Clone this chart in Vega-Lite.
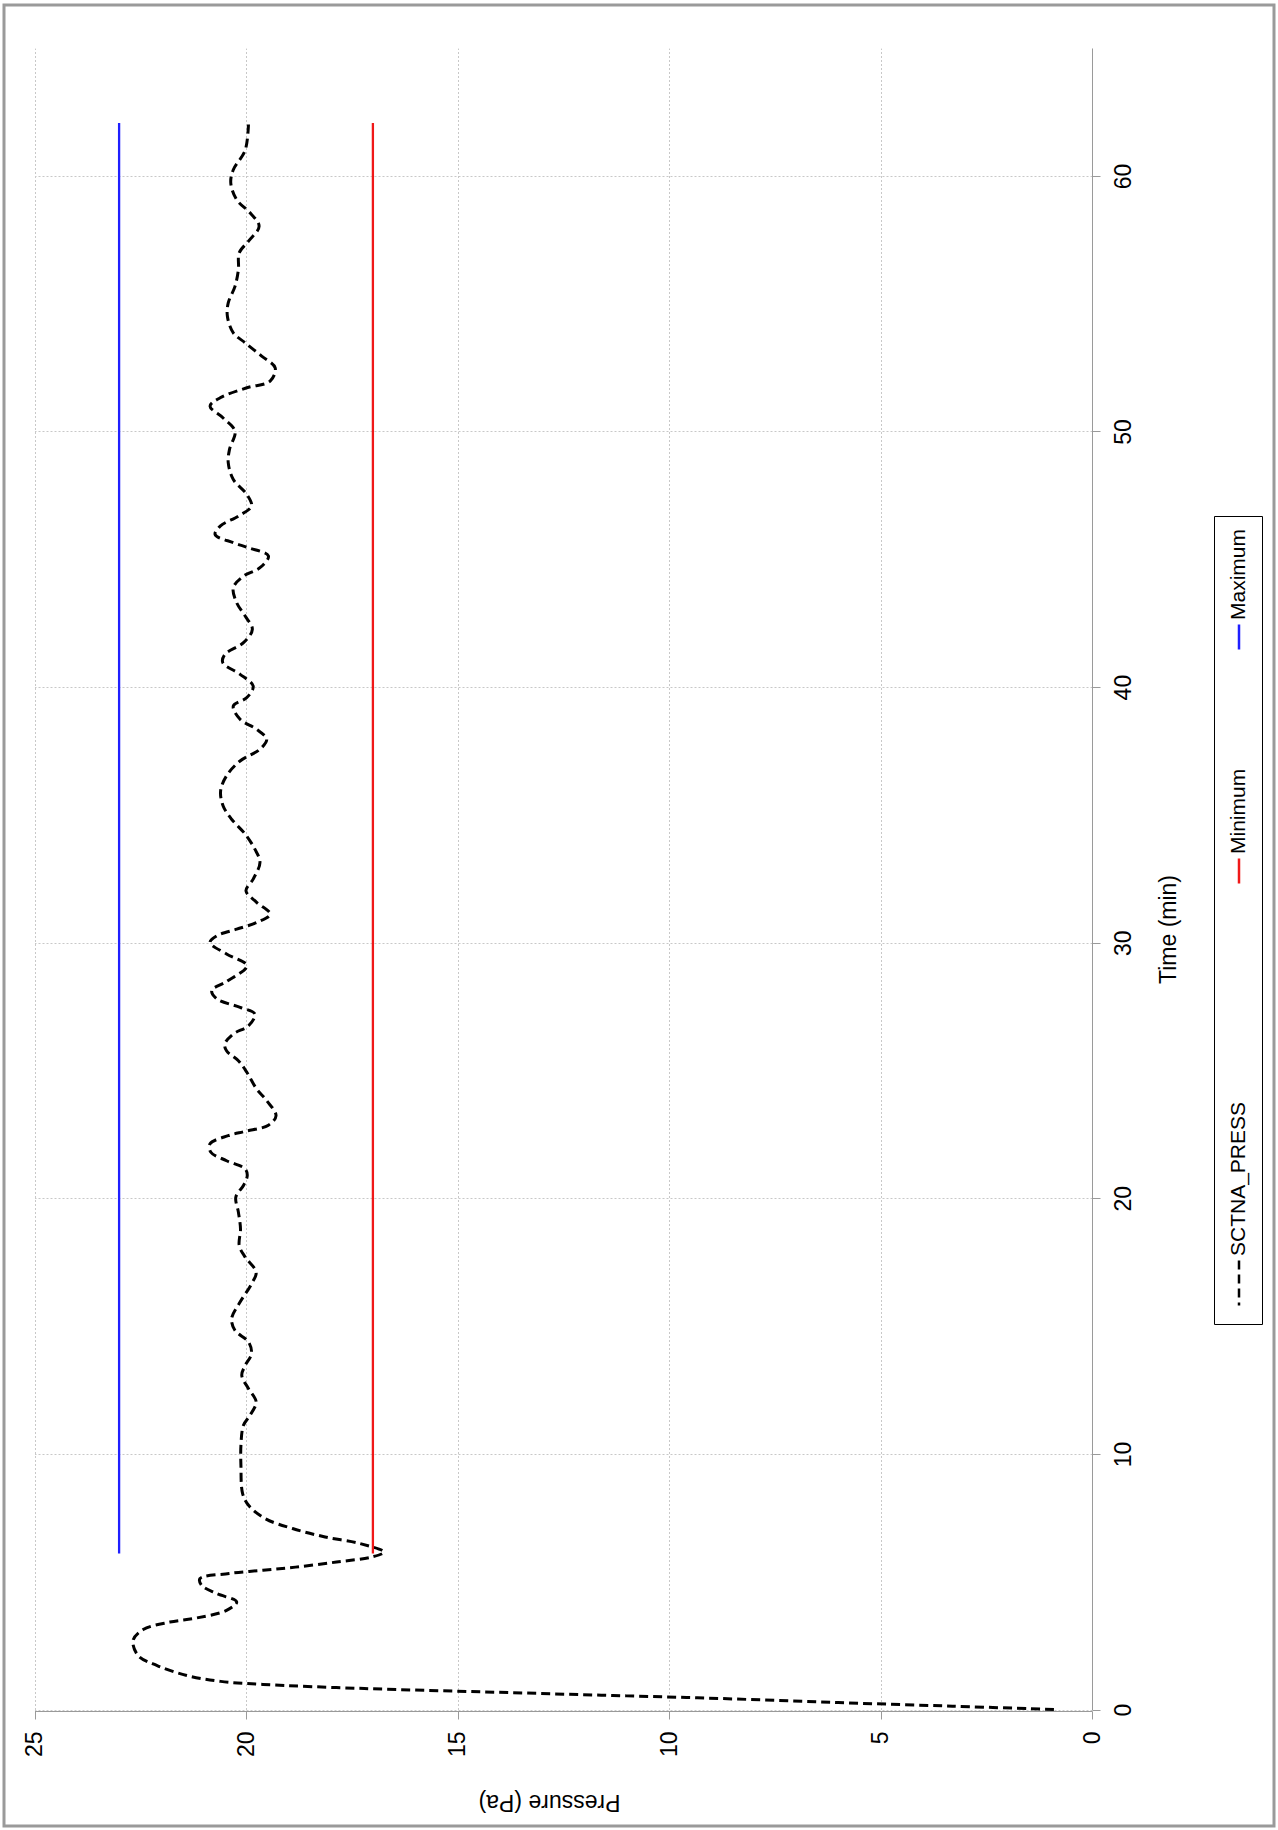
{
  "$schema": "https://vega.github.io/schema/vega-lite/v6.json",
  "autosize": "none",
  "width": 1270,
  "height": 1821,
  "padding": {"left": 4, "top": 5, "right": 4, "bottom": 4},
  "background": "white",
  "config": {
    "view": {"stroke": "#9a9a9a", "strokeWidth": 3},
    "font": "Liberation Sans",
    "axis": {
      "domainColor": "#9a9a9a",
      "tickColor": "#9a9a9a",
      "tickSize": 8,
      "gridColor": "#c8c8c8",
      "gridDash": [2, 2],
      "gridWidth": 1,
      "labelFont": "Liberation Sans",
      "labelFontSize": 23,
      "labelColor": "black",
      "titleFont": "Liberation Sans",
      "titleFontSize": 23,
      "titleFontWeight": "normal",
      "titleColor": "black"
    },
    "legend": {
      "orient": "none",
      "legendX": 1210,
      "legendY": 511,
      "direction": "vertical",
      "symbolType": "M0,-1L0,1",
      "symbolStrokeWidth": 2.5,
      "labelFont": "Liberation Sans",
      "labelFontSize": 21,
      "labelColor": "black",
      "labelLimit": 400,
      "rowPadding": 108,
      "padding": 13,
      "strokeColor": "black",
      "fillColor": "white"
    }
  },
  "datasets": {
    "press": [
      {"series": "SCTNA_PRESS", "t": 0.00, "p": 0.9},
      {"series": "SCTNA_PRESS", "t": 0.13, "p": 3.3},
      {"series": "SCTNA_PRESS", "t": 0.27, "p": 6.0},
      {"series": "SCTNA_PRESS", "t": 0.43, "p": 8.8},
      {"series": "SCTNA_PRESS", "t": 0.56, "p": 11.6},
      {"series": "SCTNA_PRESS", "t": 0.69, "p": 14.4},
      {"series": "SCTNA_PRESS", "t": 0.82, "p": 17.2},
      {"series": "SCTNA_PRESS", "t": 0.98, "p": 19.6},
      {"series": "SCTNA_PRESS", "t": 1.10, "p": 20.6},
      {"series": "SCTNA_PRESS", "t": 1.33, "p": 21.4},
      {"series": "SCTNA_PRESS", "t": 1.72, "p": 22.1},
      {"series": "SCTNA_PRESS", "t": 2.11, "p": 22.55},
      {"series": "SCTNA_PRESS", "t": 2.70, "p": 22.67},
      {"series": "SCTNA_PRESS", "t": 3.13, "p": 22.43},
      {"series": "SCTNA_PRESS", "t": 3.42, "p": 21.8},
      {"series": "SCTNA_PRESS", "t": 3.58, "p": 21.17},
      {"series": "SCTNA_PRESS", "t": 3.88, "p": 20.46},
      {"series": "SCTNA_PRESS", "t": 4.21, "p": 20.22},
      {"series": "SCTNA_PRESS", "t": 4.54, "p": 20.7},
      {"series": "SCTNA_PRESS", "t": 4.86, "p": 21.05},
      {"series": "SCTNA_PRESS", "t": 5.12, "p": 21.09},
      {"series": "SCTNA_PRESS", "t": 5.32, "p": 20.4},
      {"series": "SCTNA_PRESS", "t": 5.45, "p": 19.6},
      {"series": "SCTNA_PRESS", "t": 5.57, "p": 18.83},
      {"series": "SCTNA_PRESS", "t": 5.77, "p": 17.86},
      {"series": "SCTNA_PRESS", "t": 5.97, "p": 17.02},
      {"series": "SCTNA_PRESS", "t": 6.16, "p": 16.74},
      {"series": "SCTNA_PRESS", "t": 6.49, "p": 17.3},
      {"series": "SCTNA_PRESS", "t": 6.75, "p": 18.13},
      {"series": "SCTNA_PRESS", "t": 7.08, "p": 18.9},
      {"series": "SCTNA_PRESS", "t": 7.47, "p": 19.55},
      {"series": "SCTNA_PRESS", "t": 7.99, "p": 19.94},
      {"series": "SCTNA_PRESS", "t": 8.45, "p": 20.08},
      {"series": "SCTNA_PRESS", "t": 9.55, "p": 20.12},
      {"series": "SCTNA_PRESS", "t": 10.33, "p": 20.12},
      {"series": "SCTNA_PRESS", "t": 11.12, "p": 20.06},
      {"series": "SCTNA_PRESS", "t": 11.50, "p": 19.91},
      {"series": "SCTNA_PRESS", "t": 12.03, "p": 19.76},
      {"series": "SCTNA_PRESS", "t": 12.55, "p": 19.94},
      {"series": "SCTNA_PRESS", "t": 13.07, "p": 20.10},
      {"series": "SCTNA_PRESS", "t": 13.46, "p": 20.02},
      {"series": "SCTNA_PRESS", "t": 13.92, "p": 19.87},
      {"series": "SCTNA_PRESS", "t": 14.38, "p": 19.94},
      {"series": "SCTNA_PRESS", "t": 14.83, "p": 20.26},
      {"series": "SCTNA_PRESS", "t": 15.29, "p": 20.34},
      {"series": "SCTNA_PRESS", "t": 15.94, "p": 20.14},
      {"series": "SCTNA_PRESS", "t": 16.65, "p": 19.87},
      {"series": "SCTNA_PRESS", "t": 17.11, "p": 19.76},
      {"series": "SCTNA_PRESS", "t": 17.70, "p": 20.02},
      {"series": "SCTNA_PRESS", "t": 18.15, "p": 20.16},
      {"series": "SCTNA_PRESS", "t": 18.80, "p": 20.13},
      {"series": "SCTNA_PRESS", "t": 19.46, "p": 20.18},
      {"series": "SCTNA_PRESS", "t": 20.05, "p": 20.24},
      {"series": "SCTNA_PRESS", "t": 20.50, "p": 20.06},
      {"series": "SCTNA_PRESS", "t": 20.89, "p": 19.97},
      {"series": "SCTNA_PRESS", "t": 21.15, "p": 20.02},
      {"series": "SCTNA_PRESS", "t": 21.47, "p": 20.46},
      {"series": "SCTNA_PRESS", "t": 21.80, "p": 20.83},
      {"series": "SCTNA_PRESS", "t": 22.13, "p": 20.85},
      {"series": "SCTNA_PRESS", "t": 22.45, "p": 20.42},
      {"series": "SCTNA_PRESS", "t": 22.62, "p": 20.02},
      {"series": "SCTNA_PRESS", "t": 22.86, "p": 19.47},
      {"series": "SCTNA_PRESS", "t": 23.23, "p": 19.29},
      {"series": "SCTNA_PRESS", "t": 23.82, "p": 19.51},
      {"series": "SCTNA_PRESS", "t": 24.28, "p": 19.75},
      {"series": "SCTNA_PRESS", "t": 24.93, "p": 19.98},
      {"series": "SCTNA_PRESS", "t": 25.38, "p": 20.18},
      {"series": "SCTNA_PRESS", "t": 25.77, "p": 20.46},
      {"series": "SCTNA_PRESS", "t": 26.04, "p": 20.50},
      {"series": "SCTNA_PRESS", "t": 26.43, "p": 20.30},
      {"series": "SCTNA_PRESS", "t": 26.75, "p": 19.94},
      {"series": "SCTNA_PRESS", "t": 27.21, "p": 19.79},
      {"series": "SCTNA_PRESS", "t": 27.47, "p": 20.14},
      {"series": "SCTNA_PRESS", "t": 27.80, "p": 20.69},
      {"series": "SCTNA_PRESS", "t": 28.13, "p": 20.81},
      {"series": "SCTNA_PRESS", "t": 28.48, "p": 20.46},
      {"series": "SCTNA_PRESS", "t": 29.10, "p": 19.98},
      {"series": "SCTNA_PRESS", "t": 29.56, "p": 20.46},
      {"series": "SCTNA_PRESS", "t": 30.01, "p": 20.85},
      {"series": "SCTNA_PRESS", "t": 30.27, "p": 20.69},
      {"series": "SCTNA_PRESS", "t": 30.53, "p": 20.22},
      {"series": "SCTNA_PRESS", "t": 30.79, "p": 19.75},
      {"series": "SCTNA_PRESS", "t": 31.12, "p": 19.43},
      {"series": "SCTNA_PRESS", "t": 31.58, "p": 19.75},
      {"series": "SCTNA_PRESS", "t": 32.03, "p": 20.0},
      {"series": "SCTNA_PRESS", "t": 32.49, "p": 19.83},
      {"series": "SCTNA_PRESS", "t": 33.14, "p": 19.67},
      {"series": "SCTNA_PRESS", "t": 33.66, "p": 19.79},
      {"series": "SCTNA_PRESS", "t": 34.25, "p": 20.02},
      {"series": "SCTNA_PRESS", "t": 34.83, "p": 20.34},
      {"series": "SCTNA_PRESS", "t": 35.35, "p": 20.54},
      {"series": "SCTNA_PRESS", "t": 35.94, "p": 20.60},
      {"series": "SCTNA_PRESS", "t": 36.53, "p": 20.46},
      {"series": "SCTNA_PRESS", "t": 37.11, "p": 20.14},
      {"series": "SCTNA_PRESS", "t": 37.57, "p": 19.67},
      {"series": "SCTNA_PRESS", "t": 37.96, "p": 19.51},
      {"series": "SCTNA_PRESS", "t": 38.35, "p": 19.75},
      {"series": "SCTNA_PRESS", "t": 38.74, "p": 20.14},
      {"series": "SCTNA_PRESS", "t": 39.26, "p": 20.30},
      {"series": "SCTNA_PRESS", "t": 39.59, "p": 19.98},
      {"series": "SCTNA_PRESS", "t": 40.04, "p": 19.83},
      {"series": "SCTNA_PRESS", "t": 40.50, "p": 20.14},
      {"series": "SCTNA_PRESS", "t": 40.96, "p": 20.55},
      {"series": "SCTNA_PRESS", "t": 41.28, "p": 20.50},
      {"series": "SCTNA_PRESS", "t": 41.74, "p": 20.06},
      {"series": "SCTNA_PRESS", "t": 42.26, "p": 19.85},
      {"series": "SCTNA_PRESS", "t": 42.78, "p": 20.02},
      {"series": "SCTNA_PRESS", "t": 43.30, "p": 20.22},
      {"series": "SCTNA_PRESS", "t": 43.89, "p": 20.30},
      {"series": "SCTNA_PRESS", "t": 44.34, "p": 20.06},
      {"series": "SCTNA_PRESS", "t": 44.67, "p": 19.67},
      {"series": "SCTNA_PRESS", "t": 45.13, "p": 19.47},
      {"series": "SCTNA_PRESS", "t": 45.45, "p": 19.94},
      {"series": "SCTNA_PRESS", "t": 45.65, "p": 20.30},
      {"series": "SCTNA_PRESS", "t": 45.97, "p": 20.73},
      {"series": "SCTNA_PRESS", "t": 46.30, "p": 20.61},
      {"series": "SCTNA_PRESS", "t": 46.69, "p": 20.18},
      {"series": "SCTNA_PRESS", "t": 47.08, "p": 19.87},
      {"series": "SCTNA_PRESS", "t": 47.54, "p": 19.98},
      {"series": "SCTNA_PRESS", "t": 48.12, "p": 20.30},
      {"series": "SCTNA_PRESS", "t": 48.78, "p": 20.42},
      {"series": "SCTNA_PRESS", "t": 49.30, "p": 20.39},
      {"series": "SCTNA_PRESS", "t": 50.01, "p": 20.26},
      {"series": "SCTNA_PRESS", "t": 50.53, "p": 20.54},
      {"series": "SCTNA_PRESS", "t": 50.99, "p": 20.85},
      {"series": "SCTNA_PRESS", "t": 51.32, "p": 20.61},
      {"series": "SCTNA_PRESS", "t": 51.71, "p": 19.98},
      {"series": "SCTNA_PRESS", "t": 51.97, "p": 19.43},
      {"series": "SCTNA_PRESS", "t": 52.49, "p": 19.31},
      {"series": "SCTNA_PRESS", "t": 52.95, "p": 19.63},
      {"series": "SCTNA_PRESS", "t": 53.47, "p": 20.02},
      {"series": "SCTNA_PRESS", "t": 53.86, "p": 20.30},
      {"series": "SCTNA_PRESS", "t": 54.51, "p": 20.44},
      {"series": "SCTNA_PRESS", "t": 55.03, "p": 20.42},
      {"series": "SCTNA_PRESS", "t": 55.68, "p": 20.26},
      {"series": "SCTNA_PRESS", "t": 56.33, "p": 20.18},
      {"series": "SCTNA_PRESS", "t": 56.99, "p": 20.16},
      {"series": "SCTNA_PRESS", "t": 57.45, "p": 19.94},
      {"series": "SCTNA_PRESS", "t": 58.03, "p": 19.69},
      {"series": "SCTNA_PRESS", "t": 58.55, "p": 19.90},
      {"series": "SCTNA_PRESS", "t": 59.07, "p": 20.22},
      {"series": "SCTNA_PRESS", "t": 59.73, "p": 20.36},
      {"series": "SCTNA_PRESS", "t": 60.24, "p": 20.30},
      {"series": "SCTNA_PRESS", "t": 61.00, "p": 20.02},
      {"series": "SCTNA_PRESS", "t": 62.07, "p": 19.94}
    ],
    "limits": [
      {"series": "Minimum", "t": 6.1, "p": 17},
      {"series": "Minimum", "t": 62.07, "p": 17},
      {"series": "Maximum", "t": 6.1, "p": 23},
      {"series": "Maximum", "t": 62.07, "p": 23}
    ]
  },
  "layer": [
    {
      "data": {"name": "press"},
      "mark": {"type": "line", "strokeWidth": 3, "interpolate": "catmull-rom"},
      "encoding": {
        "x": {
          "field": "p",
          "type": "quantitative",
          "scale": {"domain": [0, 25], "range": [1088, 30.5], "nice": false, "zero": false},
          "axis": {
            "orient": "top",
            "values": [0, 5, 10, 15, 20, 25],
            "grid": true,
            "domain": false,
            "ticks": false,
            "labels": false,
            "title": null
          }
        },
        "y": {
          "field": "t",
          "type": "quantitative",
          "scale": {"domain": [0, 65], "range": [1704.5, 43.1], "nice": false, "zero": false},
          "axis": {
            "orient": "left",
            "values": [0, 10, 20, 30, 40, 50, 60],
            "grid": true,
            "domain": false,
            "ticks": false,
            "labels": false,
            "title": null
          }
        },
        "order": {"field": "t", "type": "quantitative"},
        "color": {
          "field": "series",
          "type": "nominal",
          "scale": {"domain": ["Maximum", "Minimum", "SCTNA_PRESS"], "range": ["#1f1fff", "#f01818", "black"]},
          "legend": {
            "title": null,
            "encode": {
              "symbols": {"update": {
                "x": {"value": 12},
                "y": {"signal": "datum.value === 'SCTNA_PRESS' ? 286 : 108"},
                "size": {"signal": "datum.value === 'SCTNA_PRESS' ? 2025 : 625"}
              }},
              "labels": {"update": {
                "x": {"value": 12},
                "y": {"signal": "datum.value === 'SCTNA_PRESS' ? 259 : 91"},
                "angle": {"value": -90},
                "align": {"value": "left"},
                "baseline": {"value": "middle"}
              }}
            }
          }
        },
        "strokeDash": {
          "field": "series",
          "type": "nominal",
          "scale": {"domain": ["Maximum", "Minimum", "SCTNA_PRESS"], "range": [[1, 0], [1, 0], [9, 5]]},
          "legend": {
            "title": null,
            "encode": {
              "symbols": {"update": {
                "x": {"value": 12},
                "y": {"signal": "datum.value === 'SCTNA_PRESS' ? 286 : 108"},
                "size": {"signal": "datum.value === 'SCTNA_PRESS' ? 2025 : 625"}
              }},
              "labels": {"update": {
                "x": {"value": 12},
                "y": {"signal": "datum.value === 'SCTNA_PRESS' ? 259 : 91"},
                "angle": {"value": -90},
                "align": {"value": "left"},
                "baseline": {"value": "middle"}
              }}
            }
          }
        }
      }
    },
    {
      "data": {"name": "limits"},
      "mark": {"type": "line", "strokeWidth": 2.3},
      "encoding": {
        "x": {
          "field": "p",
          "type": "quantitative",
          "scale": {"domain": [0, 25], "range": [1088, 30.5], "nice": false, "zero": false},
          "axis": {
            "orient": "bottom",
            "offset": -115,
            "grid": false,
            "values": [0, 5, 10, 15, 20, 25],
            "labelAngle": -90,
            "labelAlign": "right",
            "labelBaseline": "middle",
            "labelPadding": 12,
            "title": "Pressure (Pa)",
            "titleAngle": 180,
            "titleAlign": "center",
            "titleBaseline": "middle",
            "titleX": 545,
            "titleY": 90
          }
        },
        "y": {
          "field": "t",
          "type": "quantitative",
          "scale": {"domain": [0, 65], "range": [1704.5, 43.1], "nice": false, "zero": false},
          "axis": {
            "orient": "right",
            "offset": -182,
            "grid": false,
            "values": [0, 10, 20, 30, 40, 50, 60],
            "labelAngle": -90,
            "labelAlign": "center",
            "labelBaseline": "top",
            "labelPadding": 12,
            "title": "Time (min)",
            "titleAngle": -90,
            "titleAlign": "center",
            "titleBaseline": "middle",
            "titleX": 76,
            "titleY": 924
          }
        },
        "order": {"field": "t", "type": "quantitative"},
        "color": {"field": "series", "type": "nominal"},
        "strokeDash": {"field": "series", "type": "nominal"}
      }
    }
  ],
  "resolve": {"axis": {"x": "independent", "y": "independent"}}
}
